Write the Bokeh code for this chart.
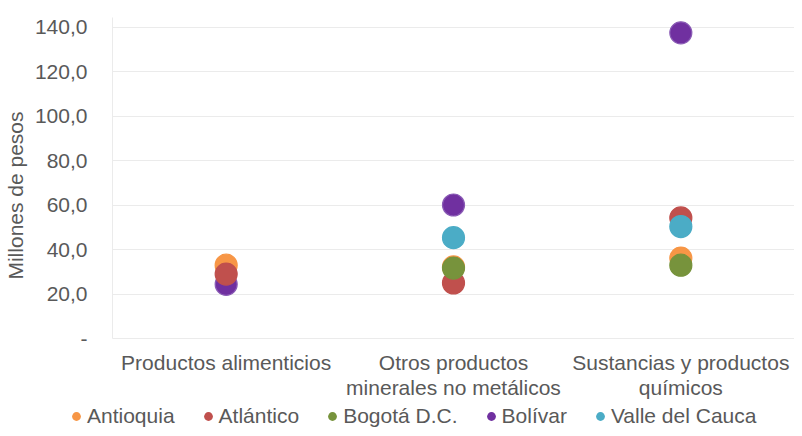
from bokeh.plotting import figure
from bokeh.layouts import column
from bokeh.models import (FactorRange, Range1d, FixedTicker, CustomJSTickFormatter,
                          Legend, LegendItem)
from bokeh.embed import file_html
from bokeh.resources import INLINE

nan = float("nan")

categories = ["Productos alimenticios", "Otros productos\nminerales no metálicos",
              "Sustancias y productos\nquímicos"]
series_names = ["Antioquia", "Atlántico", "Bogotá D.C.", "Bolívar", "Valle del Cauca"]
antioquia = [33.0, 32.2, 36.2]
atlantico = [29.0, 25.0, 54.3]
bogota = [nan, 31.7, 33.0]
bolivar = [24.4, 60.1, 137.6]
valle = [nan, 45.4, 50.4]
y_ticks = [0, 20, 40, 60, 80, 100, 120, 140]

series_values = [antioquia, atlantico, bogota, bolivar, valle]
fill_colors = ["#F79646", "#C0504D", "#77933C", "#7030A0", "#4BACC6"]
line_colors = ["#F79646", "#C0504D", "#77933C", "#8A5BB5", "#4BACC6"]
draw_order = [3, 0, 1, 2, 4]

FONT = "Liberation Sans"
TXT = "#595959"
GRID = "#EBEBEB"

p = figure(width=794, height=404, output_backend="svg", toolbar_location=None,
           x_range=FactorRange(factors=categories, range_padding=0),
           y_range=Range1d(0, 144.5),
           min_border_left=112, min_border_right=0, min_border_top=17,
           min_border_bottom=66)
p.frame_align = False
p.outline_line_color = None
p.background_fill_color = "white"
p.border_fill_color = "white"

for i in draw_order:
    p.scatter(x=categories, y=series_values[i], size=22,
              fill_color=fill_colors[i], line_color=line_colors[i], line_width=1.2)

# y axis
p.yaxis.ticker = FixedTicker(ticks=y_ticks)
p.yaxis.formatter = CustomJSTickFormatter(
    code="return tick == 0 ? '-' : tick.toFixed(1).replace('.', ',');")
p.yaxis.axis_label = "Millones de pesos" + "\u00a0" * 6
p.yaxis.axis_label_text_font = FONT
p.yaxis.axis_label_text_font_size = "21px"
p.yaxis.axis_label_text_font_style = "normal"
p.yaxis.axis_label_text_color = TXT
p.yaxis.axis_label_standoff = 5
p.yaxis.major_label_text_font = FONT
p.yaxis.major_label_text_font_size = "21px"
p.yaxis.major_label_text_color = TXT
p.yaxis.major_label_standoff = 25
p.yaxis.major_tick_out = 0
p.yaxis.major_tick_in = 0
p.yaxis.major_tick_line_color = None
p.yaxis.minor_tick_line_color = None
p.yaxis.axis_line_color = GRID

# x axis
p.xaxis.major_label_text_font = FONT
p.xaxis.major_label_text_font_size = "21px"
p.xaxis.major_label_text_color = TXT
p.xaxis.major_label_text_align = "center"
p.xaxis.major_label_text_line_height = 1.1
p.xaxis.major_label_standoff = 12
p.xaxis.major_tick_out = 0
p.xaxis.major_tick_in = 0
p.xaxis.major_tick_line_color = None
p.xaxis.axis_line_color = GRID

p.xgrid.grid_line_color = None
p.ygrid.grid_line_color = GRID
p.ygrid.grid_line_width = 1

# legend strip
lf = figure(width=794, height=24, output_backend="svg", toolbar_location=None,
            x_range=Range1d(0, 1), y_range=Range1d(0, 1),
            x_axis_type=None, y_axis_type=None,
            min_border_left=0, min_border_right=0, min_border_top=0,
            min_border_bottom=0)
lf.frame_align = False
lf.outline_line_color = None
lf.xgrid.grid_line_color = None
lf.ygrid.grid_line_color = None
items = []
for i in range(5):
    r = lf.scatter(x=[nan], y=[nan], size=9, fill_color=fill_colors[i], line_color=None)
    items.append(LegendItem(label=series_names[i], renderers=[r]))
legend = Legend(items=items, orientation="horizontal", location=(65, 0),
                glyph_width=22, glyph_height=22, label_height=24,
                label_standoff=0, spacing=22,
                padding=0, margin=0, border_line_color=None,
                background_fill_alpha=0,
                label_text_font=FONT, label_text_font_size="21px",
                label_text_color=TXT)
lf.add_layout(legend, "center")

layout = column(p, lf, spacing=0)
open("out.html", "w").write(file_html(layout, INLINE))
